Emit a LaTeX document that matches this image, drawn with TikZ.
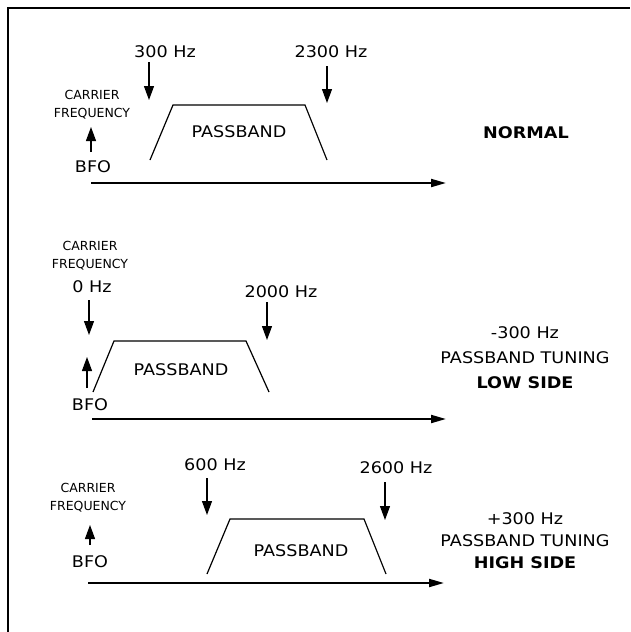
\documentclass[tikz,border=0pt]{standalone}
\usepackage{fontspec}
\setmainfont{DejaVu Sans}
\newfontfamily\widefont[FakeStretch=1.1]{DejaVu Sans}
\usetikzlibrary{arrows.meta}

\begin{document}
\begin{tikzpicture}[x = 1pt, y = -1pt,
    band/.style = {line width = 1.2pt},
    axis/.style = {line width = 2pt, -{Triangle[length = 15pt, width = 8pt]}},
    marker/.style = {line width = 1.2pt, -{Triangle[length = 14pt, width = 10pt]}},
    big/.style = {font = \widefont\fontsize{16}{25}\selectfont, inner sep = 0pt, align = center},
    heading/.style = {font = \widefont\bfseries\fontsize{16}{20}\selectfont, inner sep = 0pt},
    small/.style = {font = \fontsize{12.5}{18}\selectfont, inner sep = 0pt, align = center}]
    \useasboundingbox (0,0) rectangle (630,632);

    % frame
    \coordinate (fb) at (8,632);
    \coordinate (fc) at (8,7.5);
    \coordinate (fr) at (630,7.5);
    \draw[line width = 2pt] (fb) -- (fc) -- (fr);

    % normal
    \begin{scope}
        \node[small] (carrier1) at (92,105) {CARRIER\\FREQUENCY};
        \node[big] (bfo1) at (93,167) {BFO};
        \coordinate (up1s) at (91,152);
        \coordinate (up1e) at (91,127);
        \draw[marker] (up1s) -- (up1e);

        \node[big] (f300) at (165,52) {300 Hz};
        \coordinate (d300s) at (149,62);
        \coordinate (d300e) at (149,100);
        \draw[marker] (d300s) -- (d300e);

        \node[big] (f2300) at (331,52) {2300 Hz};
        \coordinate (d2300s) at (327,66);
        \coordinate (d2300e) at (327,103);
        \draw[marker] (d2300s) -- (d2300e);

        \draw[band] (150,160) -- (173,105) -- (305,105) -- (327,160);
        \node[big] (band1) at (239,132) {PASSBAND};

        \coordinate (ax1s) at (91,183);
        \coordinate (ax1e) at (446,183);
        \draw[axis] (ax1s) -- (ax1e);

        \node[heading] (normal) at (526,133) {NORMAL};
    \end{scope}

    % low side
    \begin{scope}
        \node[small] (carrier2) at (90,256) {CARRIER\\FREQUENCY};
        \node[big] (f0) at (92,287) {0 Hz};
        \coordinate (d0s) at (89,300);
        \coordinate (d0e) at (89,335);
        \draw[marker] (d0s) -- (d0e);

        \node[big] (f2000) at (281,292) {2000 Hz};
        \coordinate (d2000s) at (267,302);
        \coordinate (d2000e) at (267,340);
        \draw[marker] (d2000s) -- (d2000e);

        \draw[band] (93,392) -- (114,341) -- (246,341) -- (269,392);
        \node[big] (band2) at (181,370) {PASSBAND};

        \coordinate (up2s) at (87,388);
        \coordinate (up2e) at (87,357);
        \draw[marker] (up2s) -- (up2e);
        \node[big] (bfo2) at (90,405) {BFO};

        \coordinate (ax2s) at (92,419);
        \coordinate (ax2e) at (446,419);
        \draw[axis] (ax2s) -- (ax2e);

        \node[big] (low) at (525,358) {-300 Hz\\PASSBAND TUNING\\{\bfseries LOW SIDE}};
    \end{scope}

    % high side
    \begin{scope}
        \node[small] (carrier3) at (88,498) {CARRIER\\FREQUENCY};
        \node[big] (bfo3) at (90,562) {BFO};
        \coordinate (up3s) at (90,545);
        \coordinate (up3e) at (90,525);
        \draw[marker] (up3s) -- (up3e);

        \node[big] (f600) at (215,465) {600 Hz};
        \coordinate (d600s) at (207,478);
        \coordinate (d600e) at (207,515);
        \draw[marker] (d600s) -- (d600e);

        \node[big] (f2600) at (396,468) {2600 Hz};
        \coordinate (d2600s) at (385,482);
        \coordinate (d2600e) at (385,520);
        \draw[marker] (d2600s) -- (d2600e);

        \draw[band] (207,574) -- (230,519) -- (364,519) -- (386,574);
        \node[big] (band3) at (301,551) {PASSBAND};

        \coordinate (ax3s) at (88,583);
        \coordinate (ax3e) at (444,583);
        \draw[axis] (ax3s) -- (ax3e);

        \node[big, font = \widefont\fontsize{16}{22}\selectfont] (high) at (525,541) {+300 Hz\\PASSBAND TUNING\\{\bfseries HIGH SIDE}};
    \end{scope}

\end{tikzpicture}
\end{document}
